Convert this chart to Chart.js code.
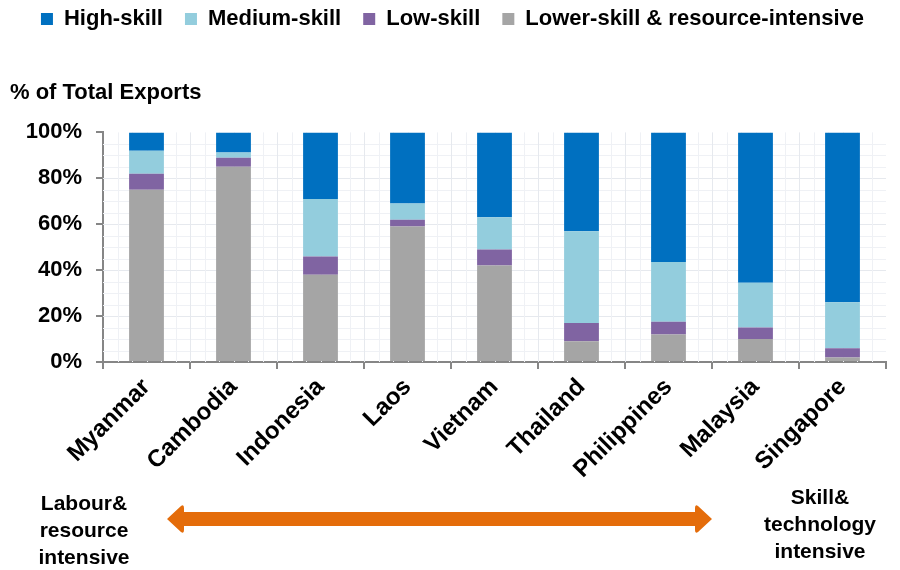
<!DOCTYPE html>
<html>
<head>
<meta charset="utf-8">
<script src="https://cdn.jsdelivr.net/npm/chart.js@4.4.1/dist/chart.umd.min.js"></script>
<style>
  html, body { margin: 0; padding: 0; background: #fff; }
  #wrap { position: relative; width: 900px; height: 570px; }
  #chart { position: absolute; left: 0; top: 0; }
  .note {
    position: absolute; font-family: "Liberation Sans", Arial, sans-serif;
    font-weight: bold; font-size: 21px; line-height: 27px; text-align: center; color: #000;
  }
  #arrow { position: absolute; left: 0; top: 0; }
</style>
</head>
<body>
<div id="wrap">
  <canvas id="chart" width="900" height="570"></canvas>
  <svg id="arrow" width="900" height="570">
    <path d="M167 519 L181 506 Q184 504 184 508 L184 512 L695 512 L695 508 Q695 504 698 506 L712 519 L698 532 Q695 534 695 530 L695 526 L184 526 L184 530 Q184 534 181 532 Z" fill="#E46C0A"/>
  </svg>
  <div class="note" style="left:18px; top:489px; width:132px;">Labour&amp;<br>resource<br>intensive</div>
  <div class="note" style="left:750px; top:483px; width:140px;">Skill&amp;<br>technology<br>intensive</div>
</div>
<script>
// dữ liệu (% tổng xuất khẩu)
const countries = ["Myanmar", "Cambodia", "Indonesia", "Laos", "Vietnam", "Thailand", "Philippines", "Malaysia", "Singapore"];
const lowerSkill = [75, 85, 38, 59, 42, 9, 12, 10, 2];
const lowSkill = [7, 4, 8, 3, 7, 8, 5.5, 5, 4];
const mediumSkill = [10, 2.3, 25, 7, 14, 40, 26, 19.5, 20];
const highSkill = [8, 8.7, 29, 31, 37, 43, 56.5, 65.5, 74];
const yTicks = [0, 20, 40, 60, 80, 100];

const FONT = "'Liberation Sans', Arial, sans-serif";

// lưới nền kiểu giấy kẻ ô
const paperGrid = {
    id: "paperGrid",
    beforeDatasetsDraw(chart) {
        const { ctx, chartArea: a, scales } = chart;
        ctx.save();
        ctx.lineWidth = 1;
        for (let v = 5; v < 100; v += 5) {
            const y = Math.round(scales.y.getPixelForValue(v)) + 0.5;
            ctx.strokeStyle = v % 20 === 0 ? "#e6e9ee" : "#eff1f5";
            ctx.beginPath(); ctx.moveTo(a.left, y); ctx.lineTo(a.right, y); ctx.stroke();
        }
        const step = (a.right - a.left) / (countries.length * 6);
        for (let i = 1; i < countries.length * 6; i++) {
            const x = Math.round(a.left + i * step) + 0.5;
            ctx.strokeStyle = i % 6 === 0 ? "#e6e9ee" : "#eff1f5";
            ctx.beginPath(); ctx.moveTo(x, a.top); ctx.lineTo(x, a.bottom); ctx.stroke();
        }
        ctx.restore();
    }
};

const datasets = [
    { label: "Lower-skill & resource-intensive", data: lowerSkill, backgroundColor: "#A5A5A5" },
    { label: "Low-skill", data: lowSkill, backgroundColor: "#8064A2" },
    { label: "Medium-skill", data: mediumSkill, backgroundColor: "#93CDDD" },
    { label: "High-skill", data: highSkill, backgroundColor: "#0070C0" }
].map(d => ({ ...d, borderWidth: 0, barPercentage: 0.4, categoryPercentage: 1 }));

new Chart(document.getElementById("chart"), {
    type: "bar",
    data: { labels: countries, datasets },
    plugins: [paperGrid],
    options: {
        responsive: false,
        animation: false,
        layout: { padding: { left: 10, right: 14, top: -14, bottom: 0 } },
        plugins: {
            legend: {
                position: "top",
                align: "end",
                weight: 3000,
                reverse: true,
                labels: {
                    boxWidth: 12, boxHeight: 12, padding: 22, color: "#000",
                    font: { family: FONT, size: 22, weight: "bold" }
                }
            },
            title: {
                display: true,
                text: "% of Total Exports",
                align: "start",
                color: "#000",
                font: { family: FONT, size: 22, weight: "bold" },
                padding: { top: 40, bottom: 26 }
            },
            tooltip: { enabled: false }
        },
        scales: {
            x: {
                stacked: true,
                afterFit(scale) { scale.height = 208; },
                grid: { offset: true, drawOnChartArea: false, tickLength: 7, color: "#868686", lineWidth: 2 },
                border: { color: "#868686", width: 2 },
                ticks: {
                    color: "#000", minRotation: 45, maxRotation: 45, padding: 4,
                    font: { family: FONT, size: 24, weight: "bold" }
                }
            },
            y: {
                stacked: true,
                min: 0, max: 100,
                afterFit(scale) { scale.width = 93; },
                afterBuildTicks(scale) { scale.ticks = yTicks.map(v => ({ value: v })); },
                grid: { drawOnChartArea: false, tickLength: 7, color: "#868686", lineWidth: 2 },
                border: { color: "#868686", width: 2 },
                ticks: {
                    color: "#000", padding: 14,
                    font: { family: FONT, size: 22, weight: "bold" },
                    callback: v => v + "%"
                }
            }
        }
    }
});
</script>
</body>
</html>
